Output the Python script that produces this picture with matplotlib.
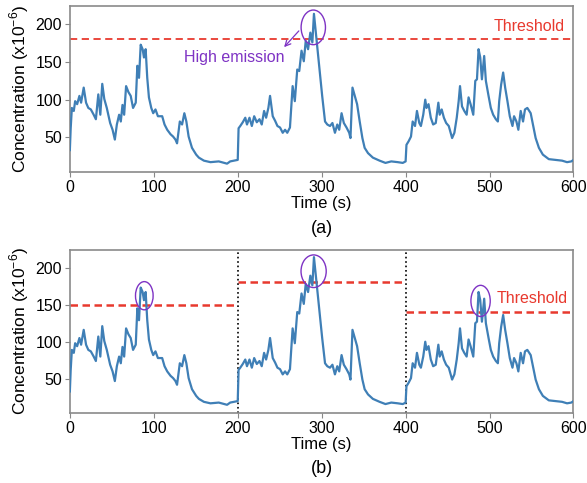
import matplotlib
matplotlib.use('Agg')
import matplotlib.pyplot as plt
from matplotlib.patches import Ellipse

plt.rcParams['font.family'] = ['Liberation Sans', 'DejaVu Sans']
plt.rcParams['mathtext.fontset'] = 'custom'
plt.rcParams['mathtext.rm'] = 'Liberation Sans'

# tiempo (s) y concentración
time_s = [0, 1, 2.4, 4.7, 6.3, 8.7, 11.4, 13.4, 16.5, 19.3, 22, 25, 28.4, 31, 33.9, 36.3,
          38.6, 41, 44, 48, 50.9, 53.6, 56, 58.7, 60.7, 62.7, 64.7, 67, 69.8, 72.5, 75.3,
          78.5, 80.4, 82.4, 84.4, 86.7, 88.3, 90.3, 92.2, 94.2, 97, 99.3, 102, 104.9, 110,
          112.8, 116, 120, 123, 125.8, 127.7, 131, 133.7, 136.4, 138.8, 141.5, 145.5, 150.5,
          153.7, 159.7, 167.5, 177.4, 187.3, 191, 200,
          201, 203, 206, 209, 211, 214, 216.8, 219.6, 222.7, 225.9, 228.6, 231.4, 233.8,
          236.5, 238.5, 241.7, 244.5, 247.3, 250.4, 253.6, 256.4, 259, 262.2, 265.4, 268,
          270.9, 273.3, 276, 278.7, 281, 283.8, 286.5, 288.9, 290.8, 292.8, 294.4, 297.6,
          300.6, 304, 306.7, 309.9, 312.8, 315.8, 318.6, 320.9, 323.7, 326.4, 329.6, 332.8,
          334.3, 336.7, 339.4, 342.2, 345.3, 348.5, 351.2, 355.2, 361, 369, 376, 382.9,
          390.7, 396.6, 400,
          401, 403.7, 406.4, 408.4, 411.2, 413.5, 416.3, 418.2, 421, 423.4, 424.9, 427.3,
          430, 432.8, 435.9, 439, 440.6, 443, 445.6, 448.3, 451.4, 455.4, 458.1, 460.9,
          463.2, 464.8, 467.2, 469.9, 472.7, 475, 477.4, 480.6, 483, 485, 486.9, 488.9,
          490.9, 493.6, 495.6, 498.8, 501.5, 504.3, 507.5, 509.9, 511.5, 513.8, 516.2,
          518.6, 521.3, 524.1, 527.3, 529.2, 532, 534.3, 537.1, 539.9, 542.2, 545, 549,
          551.7, 554.9, 558.8, 563.5, 570.6, 578.5, 586.4, 592.3, 597.4, 600]
conc = [33, 62, 89, 85, 98, 94, 105, 96, 116, 96, 89, 87, 80, 74, 107, 80,
        121, 101, 89, 69, 60, 47, 67, 80, 71, 93, 80, 118, 110, 105, 89,
        96, 145, 129, 173, 167, 156, 167, 129, 103, 89, 82, 87, 78, 78,
        67, 60, 54, 51, 47, 42, 71, 67, 82, 71, 51, 36, 27,
        23, 19, 17, 18, 15, 18, 20,
        62, 65, 70, 76, 67, 76, 65, 78, 70, 74, 67, 85, 76,
        89, 105, 78, 72, 65, 63, 56, 60, 56, 63, 118, 98,
        140, 138, 165, 151, 178, 167, 189, 176, 214, 192, 174, 140,
        105, 71, 67, 65, 69, 56, 67, 60, 82, 69, 63, 56,
        49, 116, 105, 94, 71, 49, 36, 29, 23, 19, 16, 18,
        17, 16, 18,
        40, 45, 51, 71, 65, 85, 69, 65, 80, 100, 89, 94,
        76, 67, 69, 96, 80, 87, 76, 69, 65, 49, 56, 76,
        98, 118, 91, 85, 80, 103, 94, 80, 125, 127, 167, 156,
        127, 158, 125, 105, 89, 80, 74, 71, 98, 120, 136,
        116, 98, 78, 65, 78, 71, 60, 85, 71, 87, 89, 82,
        67, 49, 36, 27, 21, 20, 19, 17, 18, 20]

# umbral global (a) y umbrales por ventana (b)
global_threshold = 180
window_edges = [0, 200, 400, 600]
window_thresholds = [150, 180, 140]

# picos marcados: (t centro, c centro, ancho, alto)
peaks_a = [(290, 196, 29, 46)]
peaks_b = [(88.7, 162, 21, 38), (290.4, 195, 30, 44), (489.3, 155, 23, 42)]

line_c = '#3f7fb6'
red = '#e8392e'
purple = '#7e33c4'

fig = plt.figure(figsize=(5.87, 4.83), dpi=100)
ax_a = fig.add_axes([0.119, 0.644, 0.858, 0.343])
ax_b = fig.add_axes([0.119, 0.145, 0.858, 0.338])

for ax in (ax_a, ax_b):
    ax.plot(time_s, conc, color=line_c, lw=1.6, zorder=3)
    ax.set_xlim(0, 600)
    ax.set_ylim(4, 224)
    ax.set_xticks([0, 100, 200, 300, 400, 500, 600])
    ax.set_yticks([50, 100, 150, 200])
    ax.tick_params(labelsize=11.5, color='#888888', length=3.5, width=0.8, pad=2)
    for s in ax.spines.values():
        s.set_color('#8a8a8a')
        s.set_linewidth(1.2)
    ax.set_xlabel('Time (s)', fontsize=12, labelpad=1)
    ax.set_ylabel('Concentration (x10$^{-6}$)', fontsize=12.5, labelpad=3)

# (a)
ax_a.axhline(global_threshold, color=red, ls='--', lw=1.3, dashes=(4, 2.5), zorder=2)
ax_a.text(590, 197, 'Threshold', color=red, fontsize=11.5, ha='right', va='center')
for tc, cc, w, h in peaks_a:
    ax_a.add_patch(Ellipse((tc, cc), w, h, fill=False, ec=purple, lw=1.0, zorder=4))
ax_a.annotate('', xy=(253, 167), xytext=(275, 194),
              arrowprops=dict(arrowstyle='->', color=purple, lw=0.9))
ax_a.text(196, 156, 'High emission', color=purple, fontsize=11.5, ha='center', va='center')
ax_a.text(0.5, -0.29, '(a)', transform=ax_a.transAxes, fontsize=13, ha='center', va='top')

# (b)
for i, thr in enumerate(window_thresholds):
    ax_b.plot([window_edges[i], window_edges[i + 1]], [thr, thr], color=red, ls='--',
              lw=1.8, dashes=(3, 1.8), zorder=2)
for edge in window_edges[1:-1]:
    ax_b.axvline(edge, color='black', ls=':', lw=1.2, zorder=2)
for tc, cc, w, h in peaks_b:
    ax_b.add_patch(Ellipse((tc, cc), w, h, fill=False, ec=purple, lw=1.0, zorder=4))
ax_b.text(551, 158, 'Threshold', color=red, fontsize=11.5, ha='center', va='center')
ax_b.text(0.5, -0.29, '(b)', transform=ax_b.transAxes, fontsize=13, ha='center', va='top')

plt.savefig('out.png', dpi=100)
